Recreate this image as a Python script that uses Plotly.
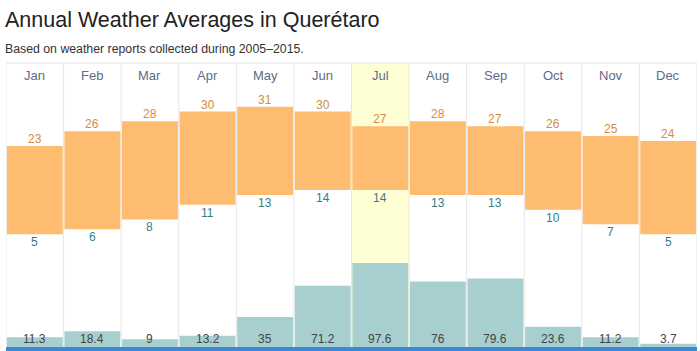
import plotly.graph_objects as go

months = ["Jan", "Feb", "Mar", "Apr", "May", "Jun", "Jul", "Aug", "Sep", "Oct", "Nov", "Dec"]
high_c = [23, 26, 28, 30, 31, 30, 27, 28, 27, 26, 25, 24]
low_c = [5, 6, 8, 11, 13, 14, 14, 13, 13, 10, 7, 5]
precip_mm = [11.3, 18.4, 9, 13.2, 35, 71.2, 97.6, 76, 79.6, 23.6, 11.2, 3.7]
highlight = "Jul"

x = list(range(len(months)))
fig = go.Figure()

fig.add_trace(go.Bar(
    x=x, y=precip_mm, yaxis="y2", marker=dict(color="#a7cfd0", line=dict(width=0)),
    hoverinfo="skip", showlegend=False))
fig.add_trace(go.Bar(
    x=x, y=[h - l for h, l in zip(high_c, low_c)], base=low_c,
    marker=dict(color="#fdbc6f", line=dict(width=0)), hoverinfo="skip", showlegend=False))

shapes = []
hi = months.index(highlight)
shapes.append(dict(type="rect", xref="x", yref="paper", x0=hi - 0.5, x1=hi + 0.5, y0=0, y1=1,
                   fillcolor="#ffffd6", line=dict(width=0), layer="below"))
for i in range(len(months) + 1):
    shapes.append(dict(type="line", xref="x", yref="paper", x0=i - 0.5, x1=i - 0.5, y0=0, y1=1,
                       line=dict(color="#e6e6e6", width=1), layer="below"))
shapes.append(dict(type="line", xref="paper", yref="paper", x0=0, x1=1, y0=1, y1=1,
                   line=dict(color="#e6e6e6", width=1), layer="below"))
shapes.append(dict(type="rect", xref="paper", yref="paper", x0=0, x1=1, y0=-0.014, y1=0.0,
                   fillcolor="#3b87d8", line=dict(width=0), layer="above"))

ann = []
font = "Liberation Sans, Arial, sans-serif"
for i, m in enumerate(months):
    ann.append(dict(x=i, y=1, xref="x", yref="paper", text=m, showarrow=False, yanchor="top",
                    yshift=-3, font=dict(family=font, size=13, color="#5f6a88")))
    ann.append(dict(x=i, y=high_c[i], xref="x", yref="y", text=str(high_c[i]), showarrow=False,
                    yanchor="bottom", yshift=-2, font=dict(family=font, size=12, color="#d38d45")))
    ann.append(dict(x=i, y=low_c[i], xref="x", yref="y", text=str(low_c[i]), showarrow=False,
                    yanchor="top", yshift=1, font=dict(family=font, size=12, color="#357f80")))
    ann.append(dict(x=i, y=0, xref="x", yref="paper", text=f"{precip_mm[i]:g}", showarrow=False,
                    yanchor="bottom", yshift=-1, font=dict(family=font, size=12, color="#444444")))

ann.append(dict(x=0, y=1, xref="paper", yref="paper", text="Annual Weather Averages in Querétaro",
                showarrow=False, xanchor="left", yanchor="bottom", xshift=-3, yshift=29,
                font=dict(family=font, size=21.5, color="#222222")))
ann.append(dict(x=0, y=1, xref="paper", yref="paper", text="Based on weather reports collected during 2005–2015.",
                showarrow=False, xanchor="left", yanchor="bottom", xshift=-3, yshift=5,
                font=dict(family=font, size=12.3, color="#333333")))

fig.update_layout(
    width=700, height=351,
    margin=dict(l=6, r=3, t=63, b=4),
    paper_bgcolor="white", plot_bgcolor="white",
    barmode="overlay", bargap=0.03,
    xaxis=dict(range=[-0.5, 11.5], showticklabels=False, showgrid=False, zeroline=False, fixedrange=True),
    yaxis=dict(range=[-18, 39.9], visible=False, showgrid=False, zeroline=False),
    yaxis2=dict(range=[0, 330], overlaying="y", visible=False, showgrid=False, zeroline=False),
    shapes=shapes, annotations=ann,
    font=dict(family=font),
)

fig.write_html("out.html")
